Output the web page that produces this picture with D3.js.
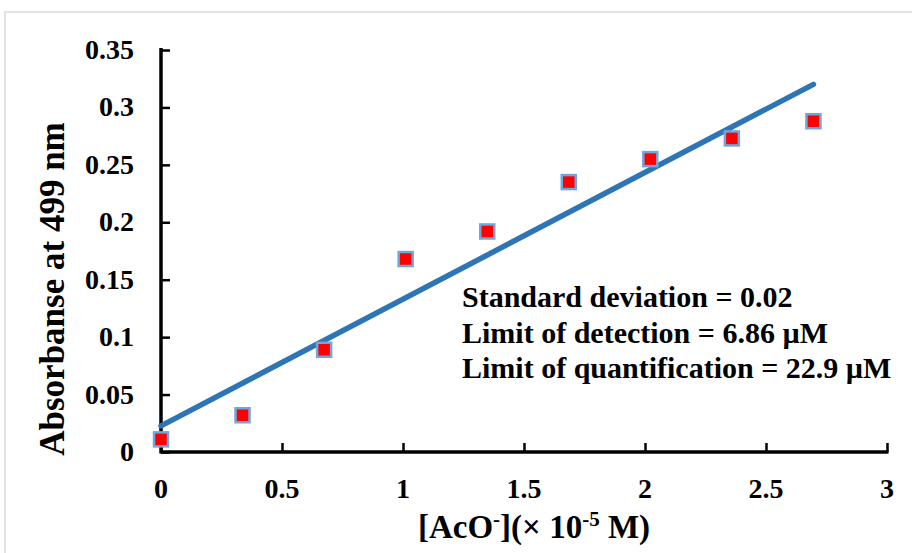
<!DOCTYPE html>
<html>
<head>
<meta charset="utf-8">
<script src="https://cdn.jsdelivr.net/npm/d3@7"></script>
<style>
  body { margin: 0; background: #fff; }
  text { font-family: "Liberation Serif", "Times New Roman", serif; font-weight: bold; }
</style>
</head>
<body>
<svg id="chart" width="912" height="553"></svg>
<script>
// --- data
const concX = [0, 0.337, 0.674, 1.011, 1.348, 1.685, 2.022, 2.359, 2.696];
const absY = [0.011, 0.032, 0.089, 0.168, 0.192, 0.235, 0.255, 0.273, 0.288];
const xTicks = [0, 0.5, 1, 1.5, 2, 2.5, 3];
const yTicks = [0, 0.05, 0.1, 0.15, 0.2, 0.25, 0.3, 0.35];
const notes = [
  "Standard deviation = 0.02",
  "Limit of detection = 6.86 \u00b5M",
  "Limit of quantification = 22.9 \u00b5M"
];

const svg = d3.select("#chart");
const m = { left: 161, top: 50, right: 887, bottom: 452 };

const x = d3.scaleLinear().domain([0, 3]).range([m.left, m.right]);
const y = d3.scaleLinear().domain([0, 0.35]).range([m.bottom, m.top]);

// outer frame
svg.append("rect")
  .attr("x", 5).attr("y", 12)
  .attr("width", 930).attr("height", 560)
  .attr("fill", "none")
  .attr("stroke", "#d9d9d9")
  .attr("stroke-width", 1.5);

// minor + major ticks, pointing inside
const gx = svg.append("g").attr("transform", `translate(0,${m.bottom})`);
gx.call(d3.axisBottom(x).tickValues(d3.range(0, 3.0001, 0.1)).tickSize(-6).tickFormat(""));
gx.call(d3.axisBottom(x).tickValues(xTicks).tickSize(-9).tickFormat(""));
gx.selectAll(".domain").remove();
gx.selectAll("line").attr("stroke", "#000").attr("stroke-width", 2.5);

const gy = svg.append("g").attr("transform", `translate(${m.left},0)`);
gy.call(d3.axisLeft(y).tickValues(d3.range(0, 0.3501, 0.01)).tickSize(-6).tickFormat(""));
gy.call(d3.axisLeft(y).tickValues(yTicks).tickSize(-9).tickFormat(""));
gy.selectAll(".domain").remove();
gy.selectAll("line").attr("stroke", "#000").attr("stroke-width", 2.5);

// axis lines
svg.append("line")
  .attr("x1", m.left).attr("x2", m.right + 1.5)
  .attr("y1", m.bottom).attr("y2", m.bottom)
  .attr("stroke", "#000").attr("stroke-width", 3.5);
svg.append("line")
  .attr("x1", m.left).attr("x2", m.left)
  .attr("y1", m.top - 2).attr("y2", m.bottom + 1.5)
  .attr("stroke", "#000").attr("stroke-width", 3.5);

// tick labels
svg.append("g").selectAll("text")
  .data(xTicks).enter().append("text")
  .attr("x", (d) => x(d))
  .attr("y", 498)
  .attr("text-anchor", "middle")
  .attr("font-size", "28px")
  .text((d) => d);

svg.append("g").selectAll("text")
  .data(yTicks).enter().append("text")
  .attr("x", 134)
  .attr("y", (d) => y(d) + 9)
  .attr("text-anchor", "end")
  .attr("font-size", "28px")
  .text((d) => d);

// axis titles
svg.append("text")
  .attr("transform", "translate(64,289) rotate(-90)")
  .attr("text-anchor", "middle")
  .attr("font-size", "35px")
  .text("Absorbanse at 499 nm");

const xt = svg.append("text")
  .attr("x", 534).attr("y", 538)
  .attr("text-anchor", "middle")
  .attr("font-size", "33px");
xt.append("tspan").text("[AcO");
xt.append("tspan").attr("dy", -12).attr("font-size", "21px").text("-");
xt.append("tspan").attr("dy", 12).text("](\u00d7 10");
xt.append("tspan").attr("dy", -12).attr("font-size", "21px").text("-5");
xt.append("tspan").attr("dy", 12).text(" M)");

// linear trendline (least squares)
const mx = d3.mean(concX), my = d3.mean(absY);
const slope = d3.sum(concX, (v, i) => (v - mx) * (absY[i] - my)) /
  d3.sum(concX, (v) => (v - mx) * (v - mx));
const icpt = my - slope * mx;
const xEnd = d3.max(concX);
svg.append("path")
  .datum([0, xEnd])
  .attr("d", d3.line().x((d) => x(d)).y((d) => y(icpt + slope * d)))
  .attr("stroke", "#2e75b6")
  .attr("stroke-width", 5.5)
  .attr("stroke-linecap", "round")
  .attr("fill", "none");

// markers
svg.append("g").selectAll("rect")
  .data(concX).enter().append("rect")
  .attr("x", (d) => x(d) - 7)
  .attr("y", (d, i) => y(absY[i]) - 7)
  .attr("width", 14).attr("height", 14)
  .attr("fill", "#ff0000")
  .attr("stroke", "#6fa6db")
  .attr("stroke-width", 2.5);

// annotation
svg.append("g").selectAll("text")
  .data(notes).enter().append("text")
  .attr("x", 462)
  .attr("y", (d, i) => 307 + i * 35.5)
  .attr("font-size", "30px")
  .text((d) => d);
</script>
</body>
</html>
